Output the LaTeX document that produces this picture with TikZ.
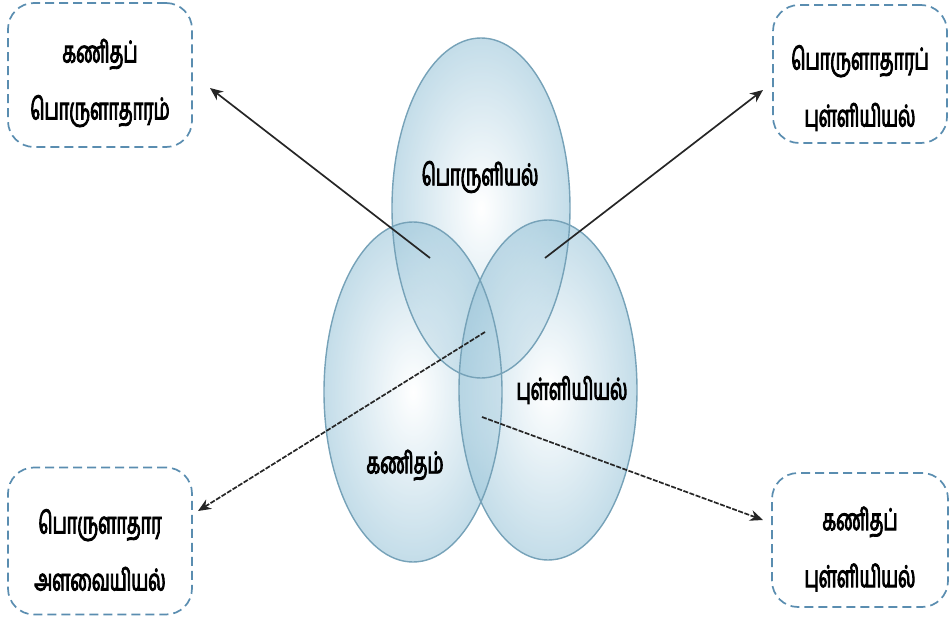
\documentclass[tikz,border=0pt]{standalone}
\usepackage{fontspec}
\newfontfamily\ta[Script=Tamil, FakeBold=3, FakeStretch=0.6]{Hind Madurai}
\usetikzlibrary{shapes.geometric,arrows.meta}
\definecolor{boxline}{HTML}{5A8DB0}
\definecolor{bubedge}{HTML}{76A2B8}
\definecolor{bubfill}{HTML}{9CC6DA}
\definecolor{arrowc}{HTML}{262626}
\tikzset{
  bubble/.style={ellipse, minimum width=178pt, minimum height=340pt, inner sep=0pt,
    inner color=white, outer color=bubfill, fill opacity=0.6},
  bubbleedge/.style={ellipse, minimum width=178pt, minimum height=340pt, inner sep=0pt,
    draw=bubedge, line width=1.4pt},
  infobox/.style={draw=boxline, line width=1.7pt, dash pattern=on 9pt off 5pt,
    rounded corners=26pt, inner sep=0pt},
  boxtext/.style={align=center, inner sep=0pt, font=\ta\fontsize{30}{57}\selectfont},
  circtext/.style={font=\ta\fontsize{30}{32}\selectfont, inner sep=0pt},
  link/.style={draw=arrowc, line width=1.7pt, -{Stealth[length=13pt,width=11pt]}},
  dlink/.style={link, dash pattern=on 5pt off 1.5pt}
}
\begin{document}
\begin{tikzpicture}[x=1pt,y=-1pt]
\useasboundingbox (0,0) rectangle (951,623);
% bubbles
\node[bubble] (etop) at (481,208) {};
\node[bubble] (eleft) at (413,392) {};
\node[bubble] (eright) at (548,390) {};
\node[bubbleedge] at (481,208) {};
\node[bubbleedge] at (413,392) {};
\node[bubbleedge] at (548,390) {};
% bubble labels
\node[circtext] (ttop) at (480,177) {பொருளியல்};
\node[circtext] (tright) at (572,390) {புள்ளியியல்};
\node[circtext] (tleft) at (405,465) {கணிதம்};
% boxes
\node[infobox, minimum width=184pt, minimum height=144pt] (btl) at (100,75) {};
\node[infobox, minimum width=174pt, minimum height=138pt] (btr) at (860,74) {};
\node[infobox, minimum width=184pt, minimum height=147pt] (bbl) at (100,541) {};
\node[infobox, minimum width=176pt, minimum height=134pt] (bbr) at (860,540) {};
\node[boxtext] (xtl) at (100,83) {கணிதப்\\பொருளாதாரம்};
\node[boxtext] (xtr) at (860,88) {பொருளாதாரப்\\புள்ளியியல்};
\node[boxtext] (xbl) at (100,550) {பொருளாதார\\அளவையியல்};
\node[boxtext] (xbr) at (860,549) {கணிதப்\\புள்ளியியல்};
% arrow start points
\coordinate (s1) at (430,258);
\coordinate (s2) at (545,258);
\coordinate (s3) at (485,332);
\coordinate (s4) at (482,417);
% arrow tip points
\coordinate (e1) at (210,88);
\coordinate (e2) at (763,90);
\coordinate (e3) at (198,511);
\coordinate (e4) at (763,520);
\draw[link] (s1) -- (e1);
\draw[link] (s2) -- (e2);
\draw[dlink] (s3) -- (e3);
\draw[dlink] (s4) -- (e4);
\end{tikzpicture}
\end{document}
